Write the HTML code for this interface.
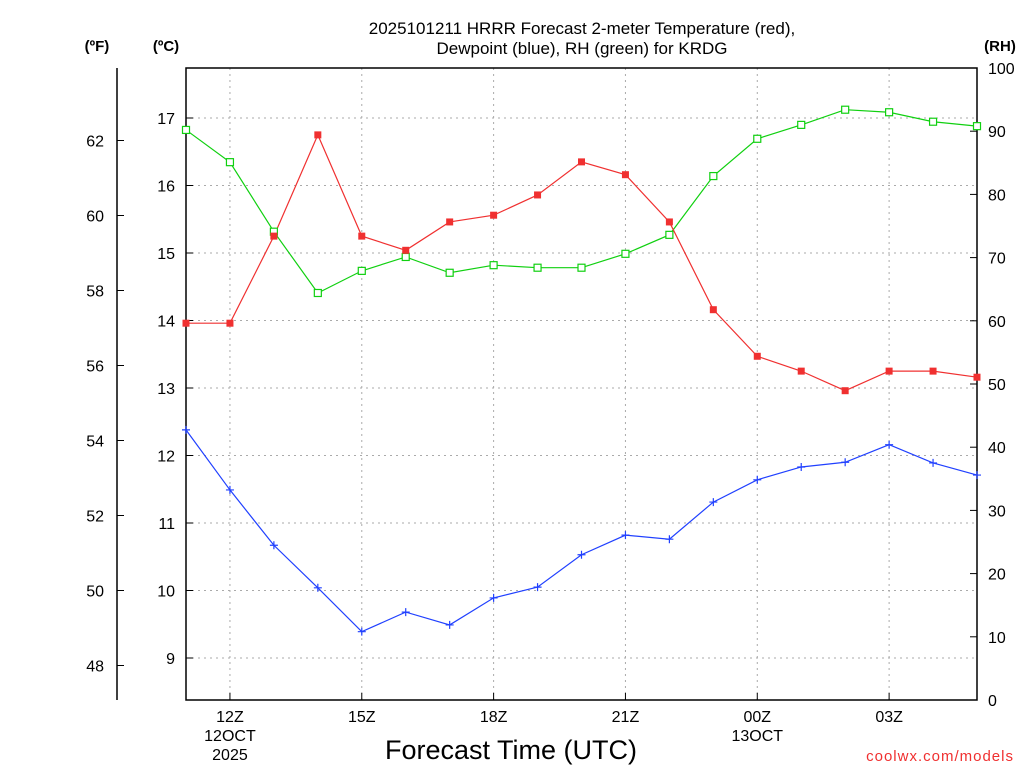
<!DOCTYPE html>
<html><head><meta charset="utf-8"><style>
body{margin:0;background:#fff}
svg{display:block;font-family:"Liberation Sans",sans-serif}
</style></head><body>
<svg id="chart" width="1024" height="768" xmlns="http://www.w3.org/2000/svg">
<text x="582" y="34" text-anchor="middle" font-size="17">2025101211 HRRR Forecast 2-meter Temperature (red),</text>
<text x="582" y="54" text-anchor="middle" font-size="17">Dewpoint (blue), RH (green) for KRDG</text>
<text x="97" y="51" text-anchor="middle" font-size="15" font-weight="bold">(ºF)</text>
<text x="166" y="51" text-anchor="middle" font-size="15" font-weight="bold">(ºC)</text>
<text x="1000" y="51" text-anchor="middle" font-size="15" font-weight="bold">(RH)</text>
<text x="511" y="759" text-anchor="middle" font-size="27">Forecast Time (UTC)</text>
<text x="1014" y="761" text-anchor="end" font-size="15" fill="#f03030" letter-spacing="1">coolwx.com/models</text>
<g id="grid"></g><g id="axes"></g><g id="series"></g>
</svg>
<script>
const hours=[11,12,13,14,15,16,17,18,19,20,21,22,23,24,25,26,27,28,29];
const tempC=[13.96,13.96,15.25,16.75,15.25,15.04,15.46,15.56,15.86,16.35,16.16,15.46,14.16,13.47,13.25,12.96,13.25,13.25,13.16];
const dewC=[12.38,11.49,10.67,10.04,9.39,9.68,9.49,9.89,10.05,10.53,10.82,10.76,11.31,11.64,11.83,11.90,12.16,11.89,11.71];
const rh=[90.2,85.1,74.1,64.4,67.9,70.1,67.6,68.8,68.4,68.4,70.6,73.6,82.9,88.8,91.0,93.4,93.0,91.5,90.8];
const cTicks=[9,10,11,12,13,14,15,16,17];
const fTicks=[48,50,52,54,56,58,60,62];
const rhTicks=[0,10,20,30,40,50,60,70,80,90,100];
const xTickHours=[12,15,18,21,24,27];
const xTickLabels=["12Z","15Z","18Z","21Z","00Z","03Z"];
const xTickSub=["12OCT","","","","13OCT",""];
const L=186,R=977,T=68,B=700;
const xS=h=>L+(h-11)*(R-L)/18;
const cS=c=>118+(17-c)*67.5;
const fS=f=>cS((f-32)/1.8);
const rS=r=>B-r*(B-T)/100;
const NS="http://www.w3.org/2000/svg";
function mk(parent,tag,attrs,text){const e=document.createElementNS(NS,tag);for(const k in attrs)e.setAttribute(k,attrs[k]);if(text!==undefined)e.textContent=text;document.getElementById(parent).appendChild(e);return e;}
cTicks.forEach(c=>{const y=cS(c);
 let g=mk('grid','line',{x1:L,x2:R,y1:y,y2:y,stroke:'#aaa','stroke-dasharray':'2,4'});
 
 
 let tk=mk('axes','line',{x1:L,x2:L+7,y1:y,y2:y,stroke:'#000'});
 
 
 let t=mk('axes','text',{x:175,y:y+6,'text-anchor':'end','font-size':16},String(c));
 
 
});
fTicks.forEach(f=>{const y=fS(f);
 let tk=mk('axes','line',{x1:117,x2:124,y1:y,y2:y,stroke:'#000'});
 
 
 let t=mk('axes','text',{x:104,y:y+6,'text-anchor':'end','font-size':16},String(f));
 
 
});
rhTicks.forEach(r=>{const y=rS(r);
 let tk=mk('axes','line',{x1:R-7,x2:R,y1:y,y2:y,stroke:'#000'});
 
 
 let t=mk('axes','text',{x:988,y:y+6,'font-size':16},String(r));
 
 
});
xTickHours.forEach((h,i)=>{const x=xS(h);
 let g=mk('grid','line',{x1:x,x2:x,y1:T,y2:B,stroke:'#aaa','stroke-dasharray':'2,4'});
 
 
 let tk=mk('axes','line',{x1:x,x2:x,y1:B-7,y2:B,stroke:'#000'});
 
 
 let t=mk('axes','text',{x:x,y:722,'text-anchor':'middle','font-size':16},xTickLabels[i]);
 
 
 if(xTickSub[i]){let s=mk('axes','text',{x:x,y:741,'text-anchor':'middle','font-size':16},xTickSub[i]);
 
 }
});
let yr=mk('axes','text',{x:xS(12),y:760,'text-anchor':'middle','font-size':16},"2025");


let fr=mk('axes','rect',{x:L,y:T,width:R-L,height:B-T,fill:'none',stroke:'#000','stroke-width':1.5});


let fa=mk('axes','line',{x1:117,x2:117,y1:T,y2:B,stroke:'#000','stroke-width':1.5});


function line(vals,scale,color,name){
 const p=mk('series','polyline',{points:vals.map((v,i)=>xS(hours[i])+','+scale(v)).join(' '),fill:'none',stroke:color,'stroke-width':1.2});
 
 
}
line(rh,rS,'#10d010','rh-line');
line(tempC,cS,'#f03030','temperature-line');
line(dewC,cS,'#2040ff','dewpoint-line');
rh.forEach((v,i)=>{const r=mk('series','rect',{x:xS(hours[i])-3.5,y:rS(v)-3.5,width:7,height:7,fill:'#fff',stroke:'#10d010','stroke-width':1.2});
 
 });
tempC.forEach((v,i)=>{const r=mk('series','rect',{x:xS(hours[i])-3.5,y:cS(v)-3.5,width:7,height:7,fill:'#f03030'});
 
 });
dewC.forEach((v,i)=>{const x=xS(hours[i]),y=cS(v);const p=mk('series','path',{d:`M${x-4},${y}H${x+4}M${x},${y-4}V${y+4}`,stroke:'#2040ff','stroke-width':1.2});
 
 });
</script>
</body></html>
